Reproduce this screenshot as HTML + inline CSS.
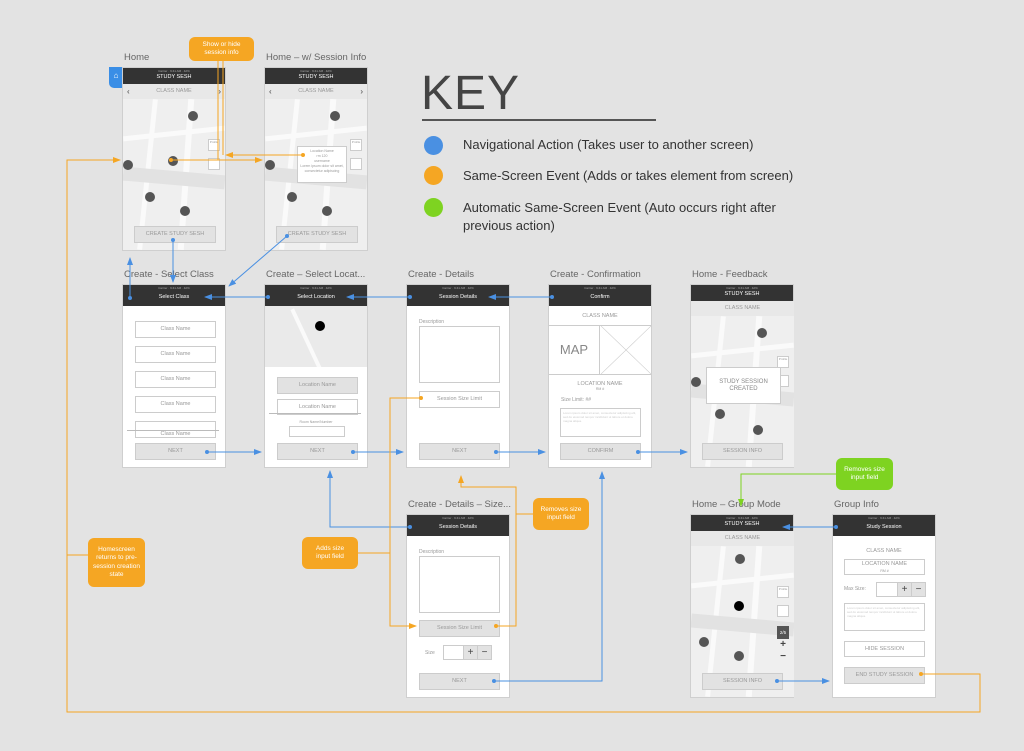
<!DOCTYPE html>
<html><head><meta charset="utf-8"><style>
*{margin:0;padding:0;box-sizing:border-box}
body{width:1024px;height:751px;background:#e3e3e3;position:relative;overflow:hidden;font-family:"Liberation Sans",sans-serif}
.a{position:absolute}
.ph{position:absolute;width:104px;height:184px;background:#fff;border:1px solid #cfcfcf}
.hd{position:absolute;left:0;top:0;width:100%;background:#333;color:#fff;text-align:center;font-size:5.5px}
.st{position:absolute;left:0;top:1px;width:100%;font-size:3px;line-height:4px;color:#aaa;text-align:center}
.lb{position:absolute;font-size:9.5px;color:#666;white-space:nowrap}
.bx{position:absolute;border:1px solid #ccc;background:#fff;font-size:5.5px;color:#999;text-align:center}
.g{background:#e2e2e2}
.map{position:absolute;background:#efefef;overflow:hidden}
.dot{position:absolute;width:10px;height:10px;border-radius:50%;background:#555}
.rd{position:absolute;background:#fafafa}
.co{position:absolute;background:#f5a623;color:#fff;font-size:6.5px;text-align:center;border-radius:6px;display:flex;align-items:center;justify-content:center;line-height:1.3}
.cn{position:absolute;width:100%;text-align:center;font-size:5.5px;color:#999}
</style></head><body>

<!-- KEY -->
<div class="a" style="left:421px;top:66px;font-size:48px;color:#444;letter-spacing:1px">KEY</div>
<div class="a" style="left:422px;top:119px;width:234px;height:2px;background:#555"></div>
<div class="a" style="left:424px;top:136px;width:19px;height:19px;border-radius:50%;background:#4a90e2"></div>
<div class="a" style="left:424px;top:166px;width:19px;height:19px;border-radius:50%;background:#f5a623"></div>
<div class="a" style="left:424px;top:198px;width:19px;height:19px;border-radius:50%;background:#7ed321"></div>
<div class="a" style="left:463px;top:137px;font-size:13px;color:#333">Navigational Action (Takes user to another screen)</div>
<div class="a" style="left:463px;top:168px;font-size:13px;color:#333">Same-Screen Event (Adds or takes element from screen)</div>
<div class="a" style="left:463px;top:199px;font-size:13px;color:#333;line-height:18px">Automatic Same-Screen Event (Auto occurs right after<br>previous action)</div>

<!-- labels -->
<div class="lb" style="left:124px;top:52px">Home</div>
<div class="lb" style="left:266px;top:52px">Home – w/ Session Info</div>
<div class="lb" style="left:124px;top:269px">Create - Select Class</div>
<div class="lb" style="left:266px;top:269px">Create –  Select Locat...</div>
<div class="lb" style="left:408px;top:269px">Create - Details</div>
<div class="lb" style="left:550px;top:269px">Create - Confirmation</div>
<div class="lb" style="left:692px;top:269px">Home - Feedback</div>
<div class="lb" style="left:408px;top:499px">Create - Details – Size...</div>
<div class="lb" style="left:692px;top:499px">Home – Group Mode</div>
<div class="lb" style="left:834px;top:499px">Group Info</div>

<!-- Home -->
<div class="a" style="left:109px;top:67px;width:14px;height:21px;background:#3a8ee6;border-radius:0 0 0 5px;color:#fff;font-size:8px;text-align:center;line-height:18px">⌂</div>
<div class="ph" style="left:122px;top:67px">
 <div class="hd" style="height:16px;line-height:19px"><div class="st">Carrier · 9:41 AM · 42%</div>STUDY SESH</div>
 <div class="a" style="top:16px;left:0;width:102px;height:15px;background:#e8e8e8;font-size:5.5px;color:#999;text-align:center;line-height:15px">CLASS NAME<span class="a" style="left:4px;color:#444;font-size:8px">‹</span><span class="a" style="right:4px;color:#444;font-size:8px">›</span></div>
 <div class="map" style="top:31px;left:0;width:102px;height:151px">
  <div class="rd" style="left:0;top:32px;width:102px;height:5px;transform:rotate(-6deg)"></div>
  <div class="rd" style="left:22px;top:0;width:5px;height:151px;transform:rotate(6deg)"></div>
  <div class="rd" style="left:60px;top:0;width:6px;height:151px;transform:rotate(4deg)"></div>
  <div class="a" style="left:0;top:72px;width:102px;height:14px;background:#e2e2e2;transform:rotate(5deg)"></div>
  <div class="dot" style="left:65px;top:12px"></div><div class="dot" style="left:0;top:61px"></div><div class="dot" style="left:45px;top:57px"></div><div class="dot" style="left:22px;top:93px"></div><div class="dot" style="left:57px;top:107px"></div>
  <div class="bx" style="left:85px;top:40px;width:12px;height:12px;font-size:3px">Profile</div><div class="bx" style="left:85px;top:59px;width:12px;height:12px"></div>
 </div>
 <div class="bx g" style="left:11px;top:158px;width:82px;height:17px;line-height:15px">CREATE STUDY SESH</div>
</div>

<!-- Home w/ session -->
<div class="ph" style="left:264px;top:67px">
 <div class="hd" style="height:16px;line-height:19px"><div class="st">Carrier · 9:41 AM · 42%</div>STUDY SESH</div>
 <div class="a" style="top:16px;left:0;width:102px;height:15px;background:#e8e8e8;font-size:5.5px;color:#999;text-align:center;line-height:15px">CLASS NAME<span class="a" style="left:4px;color:#444;font-size:8px">‹</span><span class="a" style="right:4px;color:#444;font-size:8px">›</span></div>
 <div class="map" style="top:31px;left:0;width:102px;height:151px">
  <div class="rd" style="left:0;top:32px;width:102px;height:5px;transform:rotate(-6deg)"></div>
  <div class="rd" style="left:22px;top:0;width:5px;height:151px;transform:rotate(6deg)"></div>
  <div class="rd" style="left:60px;top:0;width:6px;height:151px;transform:rotate(4deg)"></div>
  <div class="a" style="left:0;top:72px;width:102px;height:14px;background:#e2e2e2;transform:rotate(5deg)"></div>
  <div class="dot" style="left:65px;top:12px"></div><div class="dot" style="left:0;top:61px"></div><div class="dot" style="left:22px;top:93px"></div><div class="dot" style="left:57px;top:107px"></div><div class="dot" style="left:32px;top:50px"></div>
  <div class="bx" style="left:85px;top:40px;width:12px;height:12px;font-size:3px">Profile</div><div class="bx" style="left:85px;top:59px;width:12px;height:12px"></div>
  <div class="bx" style="left:32px;top:47px;width:50px;height:37px;font-size:3.5px;line-height:5px;padding-top:2px">Location Name<br>rm 120<br>username<br>Lorem ipsum dolor sit amet, consectetur adipiscing</div>
 </div>
 <div class="bx g" style="left:11px;top:158px;width:82px;height:17px;line-height:15px">CREATE STUDY SESH</div>
</div>

<!-- Select Class -->
<div class="ph" style="left:122px;top:284px">
 <div class="hd" style="height:21px;line-height:25px"><div class="st">Carrier · 9:41 AM · 42%</div>Select Class</div>
 <div class="bx" style="left:12px;top:36px;width:81px;height:17px;line-height:15px">Class Name</div>
 <div class="bx" style="left:12px;top:61px;width:81px;height:17px;line-height:15px">Class Name</div>
 <div class="bx" style="left:12px;top:86px;width:81px;height:17px;line-height:15px">Class Name</div>
 <div class="bx" style="left:12px;top:111px;width:81px;height:17px;line-height:15px">Class Name</div>
 <div class="bx" style="left:12px;top:136px;width:81px;height:17px;line-height:24px;overflow:hidden">Class Name</div>
 <div class="a" style="left:4px;top:145px;width:92px;height:1px;background:#bbb"></div>
 <div class="bx g" style="left:12px;top:158px;width:81px;height:17px;line-height:15px">NEXT</div>
</div>

<!-- Select Location -->
<div class="ph" style="left:264px;top:284px">
 <div class="hd" style="height:21px;line-height:25px"><div class="st">Carrier · 9:41 AM · 42%</div>Select Location</div>
 <div class="map" style="top:21px;left:0;width:102px;height:61px;background:#eaeaea">
  <div class="rd" style="left:40px;top:0;width:4px;height:70px;transform:rotate(-25deg)"></div>
  <div class="a" style="left:50px;top:15px;width:10px;height:10px;border-radius:50%;background:#000"></div>
 </div>
 <div class="bx g" style="left:12px;top:92px;width:81px;height:17px;line-height:15px">Location Name</div>
 <div class="bx" style="left:12px;top:114px;width:81px;height:16px;line-height:14px">Location Name</div>
 <div class="a" style="left:4px;top:128px;width:92px;height:1px;background:#bbb"></div>
 <div class="cn" style="top:135px;font-size:3.5px">Room Name/Number</div>
 <div class="bx" style="left:24px;top:141px;width:56px;height:11px"></div>
 <div class="bx g" style="left:12px;top:158px;width:81px;height:17px;line-height:15px">NEXT</div>
</div>

<!-- Details -->
<div class="ph" style="left:406px;top:284px">
 <div class="hd" style="height:21px;line-height:25px"><div class="st">Carrier · 9:41 AM · 42%</div>Session Details</div>
 <div class="a" style="left:12px;top:34px;font-size:5px;color:#999">Description</div>
 <div class="bx" style="left:12px;top:41px;width:81px;height:57px"></div>
 <div class="bx" style="left:12px;top:106px;width:81px;height:17px;line-height:15px">Session Size Limit</div>
 <div class="bx g" style="left:12px;top:158px;width:81px;height:17px;line-height:15px">NEXT</div>
</div>

<!-- Confirmation -->
<div class="ph" style="left:548px;top:284px">
 <div class="hd" style="height:21px;line-height:25px"><div class="st">Carrier · 9:41 AM · 42%</div>Confirm</div>
 <div class="cn" style="top:28px">CLASS NAME</div>
 <div class="a" style="left:0;top:40px;width:102px;height:50px;border-top:1px solid #ccc;border-bottom:1px solid #ccc"></div>
 <div class="a" style="left:0;top:41px;width:51px;height:48px;font-size:13px;color:#888;line-height:48px;text-align:center;border-right:1px solid #ccc">MAP</div>
 <svg class="a" style="left:52px;top:41px" width="50" height="48"><line x1="0" y1="0" x2="50" y2="48" stroke="#ccc" stroke-width=".6"/><line x1="50" y1="0" x2="0" y2="48" stroke="#ccc" stroke-width=".6"/></svg>
 <div class="cn" style="top:96px">LOCATION NAME</div>
 <div class="cn" style="top:102px;font-size:3.5px">RM #</div>
 <div class="a" style="left:12px;top:112px;font-size:5px;color:#999">Size Limit: ##</div>
 <div class="bx" style="left:11px;top:123px;width:81px;height:29px;font-size:3px;color:#ccc;text-align:left;padding:2px">Lorem ipsum dolor sit amet, consectetur adipiscing elit, sed do eiusmod tempor incididunt ut labore et dolore magna aliqua.</div>
 <div class="bx g" style="left:11px;top:158px;width:81px;height:17px;line-height:15px">CONFIRM</div>
</div>

<!-- Feedback -->
<div class="ph" style="left:690px;top:284px">
 <div class="hd" style="height:16px;line-height:19px"><div class="st">Carrier · 9:41 AM · 42%</div>STUDY SESH</div>
 <div class="a" style="top:16px;left:0;width:103px;height:15px;background:#e8e8e8;font-size:5.5px;color:#999;text-align:center;line-height:15px">CLASS NAME</div>
 <div class="map" style="top:31px;left:0;width:103px;height:151px">
  <div class="rd" style="left:0;top:32px;width:103px;height:5px;transform:rotate(-6deg)"></div>
  <div class="rd" style="left:22px;top:0;width:5px;height:151px;transform:rotate(6deg)"></div>
  <div class="rd" style="left:60px;top:0;width:6px;height:151px;transform:rotate(4deg)"></div>
  <div class="a" style="left:0;top:72px;width:103px;height:14px;background:#e2e2e2;transform:rotate(5deg)"></div>
  <div class="dot" style="left:66px;top:12px"></div><div class="dot" style="left:0;top:61px"></div><div class="dot" style="left:24px;top:93px"></div><div class="dot" style="left:62px;top:109px"></div>
  <div class="bx" style="left:86px;top:40px;width:12px;height:12px;font-size:3px">Profile</div><div class="bx" style="left:86px;top:59px;width:12px;height:12px"></div>
 </div>
 <div class="bx" style="left:15px;top:82px;width:75px;height:37px;font-size:6px;color:#888;line-height:7px;padding-top:11px">STUDY SESSION<br>CREATED</div>
 <div class="bx g" style="left:11px;top:158px;width:81px;height:17px;line-height:15px">SESSION INFO</div>
</div>

<!-- Size -->
<div class="ph" style="left:406px;top:514px">
 <div class="hd" style="height:21px;line-height:25px"><div class="st">Carrier · 9:41 AM · 42%</div>Session Details</div>
 <div class="a" style="left:12px;top:34px;font-size:5px;color:#999">Description</div>
 <div class="bx" style="left:12px;top:41px;width:81px;height:57px"></div>
 <div class="bx g" style="left:12px;top:105px;width:81px;height:17px;line-height:15px">Session Size Limit</div>
 <div class="a" style="left:18px;top:135px;font-size:5px;color:#999">Size</div>
 <div class="bx" style="left:36px;top:130px;width:21px;height:15px"></div>
 <div class="bx g" style="left:56px;top:130px;width:15px;height:15px;font-size:10px;color:#444;line-height:13px">+</div>
 <div class="bx g" style="left:70px;top:130px;width:15px;height:15px;font-size:10px;color:#444;line-height:13px">−</div>
 <div class="bx g" style="left:12px;top:158px;width:81px;height:17px;line-height:15px">NEXT</div>
</div>

<!-- Group Mode -->
<div class="ph" style="left:690px;top:514px">
 <div class="hd" style="height:16px;line-height:19px"><div class="st">Carrier · 9:41 AM · 42%</div>STUDY SESH</div>
 <div class="a" style="top:16px;left:0;width:103px;height:15px;background:#e8e8e8;font-size:5.5px;color:#999;text-align:center;line-height:15px">CLASS NAME</div>
 <div class="map" style="top:31px;left:0;width:103px;height:151px">
  <div class="rd" style="left:0;top:32px;width:103px;height:5px;transform:rotate(-6deg)"></div>
  <div class="rd" style="left:22px;top:0;width:5px;height:151px;transform:rotate(6deg)"></div>
  <div class="rd" style="left:60px;top:0;width:6px;height:151px;transform:rotate(4deg)"></div>
  <div class="a" style="left:0;top:72px;width:103px;height:14px;background:#e2e2e2;transform:rotate(5deg)"></div>
  <div class="dot" style="left:44px;top:8px"></div><div class="a" style="left:43px;top:55px;width:10px;height:10px;border-radius:50%;background:#000"></div><div class="dot" style="left:8px;top:91px"></div><div class="dot" style="left:43px;top:105px"></div>
  <div class="bx" style="left:86px;top:40px;width:12px;height:12px;font-size:3px">Profile</div><div class="bx" style="left:86px;top:59px;width:12px;height:12px"></div>
  <div class="a" style="left:86px;top:80px;width:12px;height:13px;background:#555;color:#fff;font-size:4.5px;text-align:center;line-height:13px">2/5</div>
  <div class="a" style="left:86px;top:93px;width:12px;font-size:10px;color:#444;text-align:center;font-weight:bold">+</div>
  <div class="a" style="left:86px;top:105px;width:12px;font-size:10px;color:#444;text-align:center;font-weight:bold">−</div>
 </div>
 <div class="bx g" style="left:11px;top:158px;width:81px;height:17px;line-height:15px">SESSION INFO</div>
</div>

<!-- Group Info -->
<div class="ph" style="left:832px;top:514px">
 <div class="hd" style="height:21px;line-height:25px"><div class="st">Carrier · 9:41 AM · 42%</div>Study Session</div>
 <div class="cn" style="top:33px">CLASS NAME</div>
 <div class="bx" style="left:11px;top:44px;width:81px;height:16px;line-height:7px;padding-top:1px">LOCATION NAME<br><span style="font-size:3.5px">RM #</span></div>
 <div class="a" style="left:11px;top:71px;font-size:5px;color:#999">Max Size:</div>
 <div class="bx" style="left:43px;top:67px;width:22px;height:15px"></div>
 <div class="bx g" style="left:64px;top:67px;width:15px;height:15px;font-size:10px;color:#444;line-height:13px">+</div>
 <div class="bx g" style="left:78px;top:67px;width:15px;height:15px;font-size:10px;color:#444;line-height:13px">−</div>
 <div class="bx" style="left:11px;top:88px;width:81px;height:28px;font-size:3px;color:#ccc;text-align:left;padding:2px">Lorem ipsum dolor sit amet, consectetur adipiscing elit, sed do eiusmod tempor incididunt ut labore et dolore magna aliqua.</div>
 <div class="bx" style="left:11px;top:126px;width:81px;height:16px;line-height:14px">HIDE SESSION</div>
 <div class="bx g" style="left:11px;top:152px;width:81px;height:17px;line-height:15px">END STUDY SESSION</div>
</div>

<!-- connectors -->
<svg class="a" style="left:0;top:0" width="1024" height="751">
<defs>
<marker id="b" markerWidth="8" markerHeight="6" refX="7" refY="3" orient="auto" markerUnits="userSpaceOnUse"><path d="M0,0L8,3L0,6z" fill="#4a90e2"/></marker>
<marker id="o" markerWidth="8" markerHeight="6" refX="7" refY="3" orient="auto" markerUnits="userSpaceOnUse"><path d="M0,0L8,3L0,6z" fill="#f5a623"/></marker>
<marker id="g" markerWidth="8" markerHeight="6" refX="7" refY="3" orient="auto" markerUnits="userSpaceOnUse"><path d="M0,0L8,3L0,6z" fill="#7ed321"/></marker>
</defs>
<g fill="none" stroke="#4a90e2" stroke-width="1">
<path d="M173,240V282" marker-end="url(#b)"/>
<path d="M130,298V258" marker-end="url(#b)"/>
<path d="M287,236L229,286" marker-end="url(#b)"/>
<path d="M268,297H205" marker-end="url(#b)"/>
<path d="M410,297H347" marker-end="url(#b)"/>
<path d="M552,297H489" marker-end="url(#b)"/>
<path d="M207,452H261" marker-end="url(#b)"/>
<path d="M353,452H403" marker-end="url(#b)"/>
<path d="M496,452H545" marker-end="url(#b)"/>
<path d="M638,452H687" marker-end="url(#b)"/>
<path d="M410,527H330V471" marker-end="url(#b)"/>
<path d="M494,681H602V472" marker-end="url(#b)"/>
<path d="M836,527H783" marker-end="url(#b)"/>
<path d="M777,681H829" marker-end="url(#b)"/>
</g>
<g fill="#4a90e2"><circle cx="173" cy="240" r="2"/><circle cx="130" cy="298" r="2"/><circle cx="287" cy="236" r="2"/><circle cx="268" cy="297" r="2"/><circle cx="410" cy="297" r="2"/><circle cx="552" cy="297" r="2"/><circle cx="207" cy="452" r="2"/><circle cx="353" cy="452" r="2"/><circle cx="496" cy="452" r="2"/><circle cx="638" cy="452" r="2"/><circle cx="410" cy="527" r="2"/><circle cx="494" cy="681" r="2"/><circle cx="836" cy="527" r="2"/><circle cx="777" cy="681" r="2"/></g>
<g fill="none" stroke="#f5a623" stroke-width="1">
<path d="M218,60V160"/><path d="M223,60V155"/>
<path d="M171,160H262" marker-end="url(#o)"/>
<path d="M303,155H226" marker-end="url(#o)"/>
<path d="M421,398H390V626H416" marker-end="url(#o)"/>
<path d="M358,553H390"/>
<path d="M496,626H516V487H461V476" marker-end="url(#o)"/>
<path d="M516,514H533"/>
<path d="M921,674H980V712H67V160H120" marker-end="url(#o)"/>
<path d="M67,555H88"/>
</g>
<g fill="#f5a623"><circle cx="171" cy="160" r="2"/><circle cx="303" cy="155" r="2"/><circle cx="421" cy="398" r="2"/><circle cx="496" cy="626" r="2"/><circle cx="921" cy="674" r="2"/></g>
<path d="M836,474H741V506" fill="none" stroke="#7ed321" marker-end="url(#g)"/>
</svg>

<!-- callouts -->
<div class="co" style="left:189px;top:37px;width:65px;height:24px">Show or hide<br>session info</div>
<div class="co" style="left:533px;top:498px;width:56px;height:32px">Removes size<br>input field</div>
<div class="co" style="left:302px;top:537px;width:56px;height:32px">Adds size<br>input field</div>
<div class="co" style="left:88px;top:538px;width:57px;height:49px">Homescreen<br>returns to pre-<br>session creation<br>state</div>
<div class="co" style="left:836px;top:458px;width:57px;height:32px;background:#7ed321">Removes size<br>input field</div>
</body></html>
